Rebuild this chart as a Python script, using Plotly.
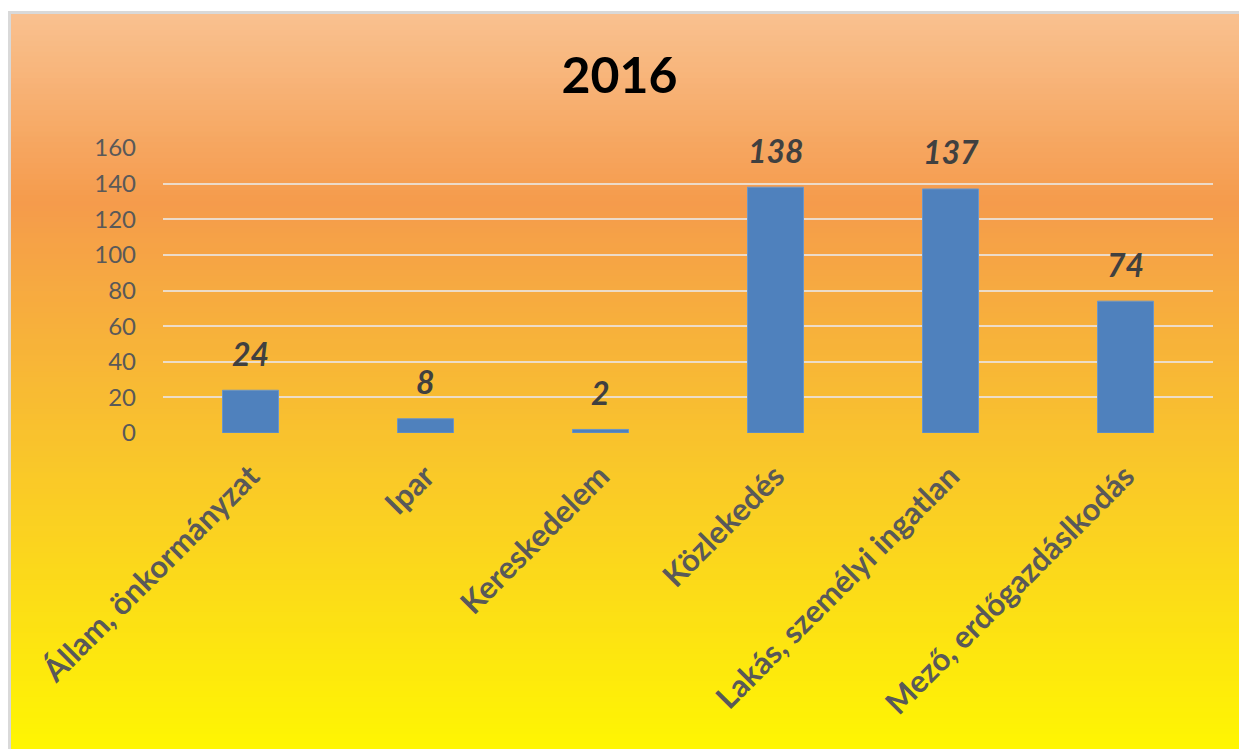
import plotly.graph_objects as go

# data
categories = [
    "Állam, önkormányzat",
    "Ipar",
    "Kereskedelem",
    "Közlekedés",
    "Lakás, személyi ingatlan",
    "Mező, erdőgazdáslkodás",
]
values = [24, 8, 2, 138, 137, 74]
y_ticks = [0, 20, 40, 60, 80, 100, 120, 140, 160]

FONT = "Lato, 'Open Sans', sans-serif"
GREY = "#595959"

# background gradient stops (fraction from top, rgb)
stops = [
    (0.0, (249, 193, 144)),
    (0.25, (245, 155, 76)),
    (0.58, (249, 196, 44)),
    (1.0, (255, 248, 0)),
]


def grad_color(t):
    for (t0, c0), (t1, c1) in zip(stops, stops[1:]):
        if t <= t1:
            f = (t - t0) / (t1 - t0)
            r, g, b = (round(a + (b_ - a) * f) for a, b_ in zip(c0, c1))
            return f"rgb({r},{g},{b})"
    return "rgb({},{},{})".format(*stops[-1][1])


fig = go.Figure()
fig.add_trace(
    go.Bar(
        x=categories,
        y=values,
        marker=dict(color="#4F81BD", line=dict(color="#6A95C8", width=1)),
        width=0.32,
        hoverinfo="x+y",
    )
)

# value labels above the bars
for c, v in zip(categories, values):
    fig.add_annotation(
        x=c, y=v, text=str(v), showarrow=False, yshift=37,
        font=dict(family=FONT, size=32, color="#404040", weight=700, style="italic"),
    )

# gradient background made of thin strips (paper coords, plot area 1050 x 285 px)
top_y, bot_y = 1.470, -1.15
n = 140
shapes = []
for i in range(n):
    y0 = top_y - (top_y - bot_y) * i / n
    y1 = top_y - (top_y - bot_y) * (i + 1) / n
    shapes.append(dict(
        type="rect", xref="paper", yref="paper", x0=-0.1448, x1=1.05,
        y0=y1 - 0.002, y1=y0, fillcolor=grad_color((i + 0.5) / n),
        line=dict(width=0), layer="below",
    ))
# thin grey frame on top/left
shapes.append(dict(
    type="rect", xref="paper", yref="paper", x0=-0.1462, x1=1.1,
    y0=-1.3, y1=1.4755, line=dict(color="#D9D9D9", width=3),
    fillcolor="rgba(0,0,0,0)", layer="below",
))

fig.update_layout(
    shapes=shapes,
    width=1239,
    height=749,
    title=dict(
        text="2016", x=0.5, xanchor="center", y=1 - 75 / 749, yanchor="middle",
        font=dict(family=FONT, size=50, color="#000000", weight=700),
    ),
    paper_bgcolor="#FFFFFF",
    plot_bgcolor="rgba(0,0,0,0)",
    showlegend=False,
    margin=dict(l=163, r=26, t=148, b=316),
    xaxis=dict(
        tickangle=-45,
        tickfont=dict(family=FONT, size=31, color=GREY, weight=700),
        showgrid=False,
        showline=False,
        ticks="",
        ticklabelstandoff=18,
    ),
    yaxis=dict(
        range=[0, 160],
        tickvals=y_ticks,
        tickfont=dict(family=FONT, size=24, color=GREY),
        gridcolor="rgba(235,225,215,0.9)",
        gridwidth=2,
        zeroline=False,
        showline=False,
        ticklabelstandoff=26,
    ),
)

# drop the default page margin / scrollbars so the figure fills the window
fig.write_html(
    "out.html",
    config={"displayModeBar": False},
    post_script=(
        "document.body.style.margin='0';"
        "document.body.style.overflow='hidden';"
        "document.documentElement.style.overflow='hidden';"
    ),
)
